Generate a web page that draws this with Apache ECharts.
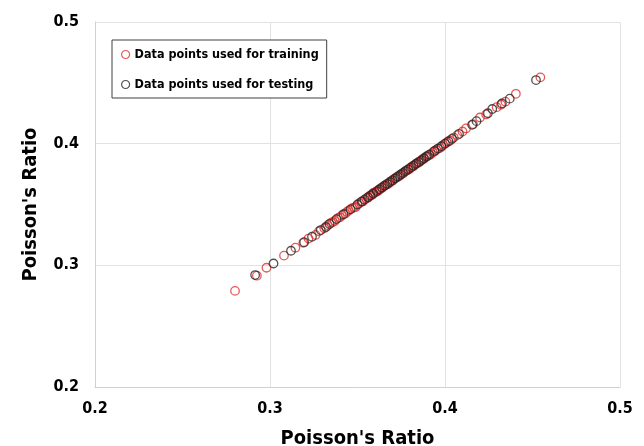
<!DOCTYPE html>
<html>
<head>
<meta charset="utf-8">
<script src="https://cdn.jsdelivr.net/npm/echarts@6/dist/echarts.min.js"></script>
<style>
  html, body { margin: 0; padding: 0; background: #fff; }
  #chart { width: 644px; height: 446px; }
</style>
</head>
<body>
<div id="chart"></div>
<script>
// Predicted vs. actual Poisson's ratio, [actual, predicted]
var trainingPoints = [
  [0.280, 0.279], [0.2925, 0.2915], [0.298, 0.298], [0.308, 0.308], [0.3145, 0.3145],
  [0.319, 0.3185], [0.322, 0.322], [0.326, 0.325], [0.328, 0.328], [0.331, 0.3305],
  [0.333, 0.333], [0.335, 0.335], [0.336, 0.3355], [0.337, 0.3365], [0.339, 0.339],
  [0.340, 0.3395], [0.341, 0.341], [0.343, 0.3425], [0.344, 0.344], [0.345, 0.345],
  [0.347, 0.347], [0.348, 0.3475], [0.349, 0.348], [0.351, 0.351], [0.352, 0.352],
  [0.353, 0.3525], [0.355, 0.355], [0.356, 0.3555], [0.357, 0.357], [0.3585, 0.358],
  [0.359, 0.3595], [0.360, 0.360], [0.361, 0.3605], [0.362, 0.3615], [0.363, 0.363],
  [0.364, 0.3635], [0.365, 0.365], [0.366, 0.366], [0.367, 0.3665], [0.368, 0.3675],
  [0.369, 0.369], [0.370, 0.3695], [0.371, 0.371], [0.372, 0.372], [0.373, 0.3725],
  [0.374, 0.3735], [0.375, 0.375], [0.376, 0.3755], [0.377, 0.377], [0.378, 0.378],
  [0.379, 0.3785], [0.380, 0.3795], [0.381, 0.381], [0.382, 0.3815], [0.383, 0.383],
  [0.384, 0.384], [0.385, 0.3845], [0.386, 0.3855], [0.387, 0.387], [0.388, 0.3875],
  [0.389, 0.389], [0.390, 0.390], [0.391, 0.3905], [0.392, 0.3915], [0.393, 0.393],
  [0.394, 0.3935], [0.395, 0.395], [0.397, 0.3965], [0.398, 0.3975], [0.399, 0.399],
  [0.401, 0.401], [0.403, 0.4025], [0.405, 0.405], [0.407, 0.407], [0.410, 0.410],
  [0.412, 0.4125], [0.416, 0.416], [0.420, 0.4215], [0.4235, 0.424], [0.4295, 0.430],
  [0.432, 0.432], [0.4345, 0.4345], [0.4405, 0.441], [0.4545, 0.4545]
];
var testingPoints = [
  [0.2915, 0.292], [0.302, 0.3015], [0.312, 0.312], [0.3195, 0.319], [0.324, 0.3235],
  [0.329, 0.329], [0.332, 0.3315], [0.334, 0.334], [0.338, 0.338], [0.342, 0.342],
  [0.346, 0.346], [0.350, 0.350], [0.3525, 0.3525], [0.354, 0.354], [0.356, 0.356],
  [0.3575, 0.3575], [0.359, 0.359], [0.361, 0.361], [0.3625, 0.3625], [0.364, 0.364],
  [0.3655, 0.3655], [0.367, 0.367], [0.3685, 0.3685], [0.370, 0.370], [0.3715, 0.3715],
  [0.373, 0.373], [0.3745, 0.3745], [0.376, 0.376], [0.3775, 0.3775], [0.379, 0.379],
  [0.3805, 0.3805], [0.382, 0.382], [0.3835, 0.3835], [0.385, 0.385], [0.3865, 0.3865],
  [0.388, 0.388], [0.3895, 0.3895], [0.391, 0.391], [0.394, 0.394], [0.396, 0.396],
  [0.398, 0.398], [0.400, 0.400], [0.402, 0.402], [0.404, 0.404], [0.408, 0.408],
  [0.4155, 0.4155], [0.418, 0.4185], [0.4245, 0.425], [0.427, 0.4285], [0.4325, 0.433],
  [0.437, 0.437], [0.452, 0.4523]
];
var seriesNames = ['Data points used for training', 'Data points used for testing'];
var axisTitle = "Poisson's Ratio";

var FONT = '"DejaVu Sans Condensed", "DejaVu Sans", sans-serif';
var RED = '#e0302c';
var BLACK = '#262626';

var chart = echarts.init(document.getElementById('chart'), null, { renderer: 'canvas' });

function axis(nameGap, nameRotate) {
  return {
    type: 'value',
    min: 0.2,
    max: 0.5,
    interval: 0.1,
    name: axisTitle,
    nameLocation: 'middle',
    nameGap: nameGap,
    nameRotate: nameRotate,
    nameTextStyle: { fontFamily: FONT, fontWeight: 'bold', fontSize: 20, color: '#000' },
    axisLine: { show: true, lineStyle: { color: '#d0d0d0', width: 1 } },
    axisTick: { show: false },
    axisLabel: {
      fontFamily: FONT, fontWeight: 'bold', fontSize: 16, color: '#000',
      formatter: function (v) { return v.toFixed(1); }
    },
    splitLine: { show: true, lineStyle: { color: '#e2e2e2', width: 1 } }
  };
}

var xAxis = axis(42, 0);
xAxis.axisLabel.margin = 14;
var yAxis = axis(54, 90);
yAxis.axisLabel.margin = 16;

chart.setOption({
  animation: false,
  backgroundColor: '#fff',
  grid: { left: 95, right: 24, top: 22, bottom: 59, containLabel: false, outerBoundsMode: 'none' },
  xAxis: xAxis,
  yAxis: yAxis,
  legend: {
    orient: 'vertical',
    left: 112,
    top: 40,
    padding: [8, 8, 7, 9],
    itemGap: 17,
    itemWidth: 8,
    itemHeight: 8,
    borderColor: '#404040',
    borderWidth: 1,
    backgroundColor: '#fff',
    textStyle: { fontFamily: FONT, fontWeight: 'bold', fontSize: 12.5, color: '#000' },
    data: [
      { name: seriesNames[0], icon: 'circle', itemStyle: { color: '#fff', borderColor: RED, borderWidth: 1.2 } },
      { name: seriesNames[1], icon: 'circle', itemStyle: { color: '#fff', borderColor: BLACK, borderWidth: 1.2 } }
    ]
  },
  series: [
    {
      name: seriesNames[0],
      type: 'scatter',
      data: trainingPoints,
      symbol: 'circle',
      symbolSize: 8.5,
      itemStyle: { color: 'rgba(0,0,0,0)', borderColor: RED, borderWidth: 1.3 },
      z: 2
    },
    {
      name: seriesNames[1],
      type: 'scatter',
      data: testingPoints,
      symbol: 'circle',
      symbolSize: 8.5,
      itemStyle: { color: 'rgba(0,0,0,0)', borderColor: BLACK, borderWidth: 1.3 },
      z: 3
    }
  ]
});
</script>
</body>
</html>
